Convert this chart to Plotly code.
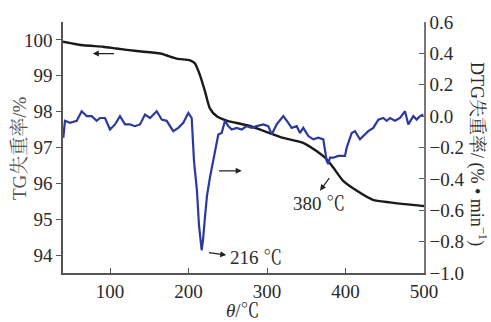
import plotly.graph_objects as go

# TG curve (left axis)
tg_temp = [40, 66, 91, 108, 134, 164, 185, 202, 208, 214.5, 221, 227, 236, 248.5, 278,
           320.6, 346, 363, 376, 384.4, 397, 414, 435, 456.6, 494.8, 500]
tg_val = [99.95, 99.85, 99.81, 99.76, 99.69, 99.62, 99.48, 99.43, 99.35, 99.02, 98.56, 98.1,
          97.87, 97.75, 97.6, 97.27, 97.13, 96.9, 96.67, 96.44, 96.07, 95.8, 95.54, 95.47,
          95.38, 95.37]

# DTG curve (right axis)
dtg_temp = [40.4, 42.5, 48.9, 57.5, 63.8, 70.2, 76.6, 82.9, 87.1, 93.5, 99.9, 106.3, 112.6,
            119.0, 125.4, 131.7, 138.1, 144.5, 150.9, 159.4, 165.8, 172.1, 180.5, 186.9,
            193.3, 199.7, 204.0, 206.9, 210.7, 213.3, 216.7, 218.4, 220.9, 223.5, 227.3,
            231.5, 235.0, 237.9, 242.2, 246.4, 250.6, 255.0, 261.3, 267.7, 274.1, 280.4,
            286.8, 295.2, 301.6, 305.9, 312.3, 320.7, 327.1, 331.4, 337.8, 342.0, 346.2,
            352.6, 358.9, 365.3, 371.7, 376.0, 378.0, 380.2, 384.4, 390.8, 399.3, 401.5,
            407.9, 412.1, 418.4, 422.6, 429.0, 435.4, 441.8, 448.1, 452.5, 456.7, 463.0,
            469.4, 475.8, 480.0, 486.4, 490.7, 494.9, 499.1]
dtg_val = [-0.138, -0.03, -0.043, -0.03, 0.031, 0.0, 0.0, -0.03, -0.012, -0.012, -0.085,
           -0.053, 0.0, -0.053, -0.053, -0.064, -0.053, 0.01, -0.012, 0.031, -0.022, -0.03,
           -0.096, -0.075, -0.043, 0.02, -0.012, -0.285, -0.475, -0.697, -0.855, -0.79,
           -0.644, -0.507, -0.39, -0.285, -0.19, -0.117, -0.107, -0.03, -0.064, -0.085,
           -0.075, -0.085, -0.064, -0.075, -0.064, -0.053, -0.064, -0.117, -0.053, 0.0,
           -0.043, -0.075, -0.064, -0.107, -0.075, -0.127, -0.148, -0.138, -0.148, -0.285,
           -0.306, -0.265, -0.265, -0.254, -0.254, -0.201, -0.107, -0.096, -0.148, -0.127,
           -0.096, -0.075, -0.022, -0.012, -0.03, -0.012, -0.03, -0.012, 0.031, -0.053, 0.0,
           -0.022, 0.0, 0.01]

x_ticks = [100, 200, 300, 400, 500]
tg_ticks = [94, 95, 96, 97, 98, 99, 100]
dtg_ticks = [0.6, 0.4, 0.2, 0.0, -0.2, -0.4, -0.6, -0.8, -1.0]

FONT = "Times New Roman, Liberation Serif, Noto Serif CJK SC, serif"
TXT = "#2a2a2a"
AX = "#555555"
FS = 19

fig = go.Figure()
fig.add_trace(go.Scatter(x=tg_temp, y=tg_val, mode="lines", yaxis="y",
                         line=dict(color="#1a1a1a", width=2.4, shape="spline", smoothing=0.6),
                         showlegend=False))
fig.add_trace(go.Scatter(x=dtg_temp, y=dtg_val, mode="lines", yaxis="y2",
                         line=dict(color="#2b3a9c", width=2.2), showlegend=False))

arrow = dict(showarrow=True, arrowhead=2, arrowsize=1, arrowwidth=1.2,
             arrowcolor="#222222", text=" ")
annotations = [
    dict(x=78, y=99.62, ax=110, ay=99.62, xref="x", yref="y", axref="x", ayref="y", **arrow),
    dict(x=267.7, y=-0.349, ax=233.7, ay=-0.349, xref="x", yref="y2", axref="x", ayref="y2", **arrow),
    dict(x=248, y=-0.886, ax=220.9, ay=-0.866, xref="x", yref="y2", axref="x", ayref="y2", **arrow),
    dict(x=367.5, y=-0.475, ax=384.4, ay=-0.36, xref="x", yref="y2", axref="x", ayref="y2", **arrow),
    dict(x=250.5, y=-0.9, xref="x", yref="y2", text="216 ℃", showarrow=False,
         xanchor="left", yanchor="middle", font=dict(family=FONT, size=FS, color=TXT)),
    dict(x=366, y=-0.557, xref="x", yref="y2", text="380 ℃", showarrow=False,
         xanchor="center", yanchor="middle", font=dict(family=FONT, size=FS, color=TXT)),
    dict(x=20, y=147, xref="paper", yref="paper", text="TG失重率/%", showarrow=False,
         textangle=-90, xanchor="center", yanchor="middle",
         font=dict(family=FONT, size=FS, color="#555555")),
    dict(x=478, y=153, xref="paper", yref="paper", text="DTG失重率/ (% • min<sup>−1</sup>)",
         showarrow=False, textangle=90, xanchor="center", yanchor="middle",
         font=dict(family=FONT, size=18, color=TXT)),
    dict(x=243, y=311, xref="paper", yref="paper", text="<i>θ</i>/℃", showarrow=False,
         xanchor="center", yanchor="middle",
         font=dict(family=FONT, size=FS, color=TXT)),
]
# convert pixel-positioned paper annotations to paper fractions
W, H = 491, 322
L, R, T, B = 63, 67, 20, 49
pw, ph = W - L - R, H - T - B
for a in annotations:
    if a.get("xref") == "paper":
        a["x"] = (a["x"] - L) / pw
        a["y"] = 1 - (a["y"] - T) / ph

fig.update_layout(
    width=W, height=H,
    margin=dict(l=L, r=R, t=T, b=B),
    paper_bgcolor="white", plot_bgcolor="white",
    font=dict(family=FONT, size=FS, color=TXT),
    annotations=annotations,
    xaxis=dict(range=[40, 500], tickvals=x_ticks, ticks="inside", ticklen=5,
               tickcolor=AX, showline=True, linecolor=AX, linewidth=1.5,
               showgrid=False, zeroline=False, mirror=False,
               tickfont=dict(family=FONT, size=FS, color=TXT)),
    yaxis=dict(range=[93.5, 100.5], tickvals=tg_ticks, ticks="outside", ticklen=5,
               tickcolor=AX, showline=True, linecolor=AX, linewidth=1.5,
               showgrid=False, zeroline=False,
               tickfont=dict(family=FONT, size=FS, color=TXT)),
    yaxis2=dict(range=[-1.0, 0.6], tickvals=dtg_ticks, tickformat=".1f",
                overlaying="y", side="right", ticks="inside", ticklen=5,
                tickcolor=AX, showline=True, linecolor="#777777", linewidth=1.5,
                showgrid=False, zeroline=False,
                tickfont=dict(family=FONT, size=FS, color=TXT)),
)

fig.write_html("out.html")
